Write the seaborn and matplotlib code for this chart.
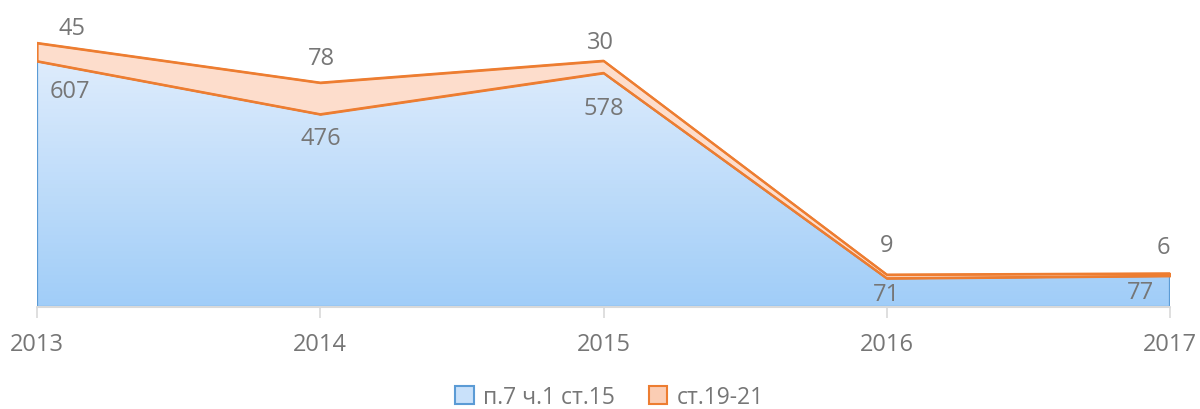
import numpy as np
import pandas as pd
import seaborn as sns
import matplotlib
matplotlib.use("Agg")
import matplotlib.pyplot as plt
from matplotlib.patches import Patch
from matplotlib.colors import LinearSegmentedColormap

# ---- data ----
years = ["2013", "2014", "2015", "2016", "2017"]
p7_st15 = [607, 476, 578, 71, 77]      # п.7 ч.1 ст.15
st19_21 = [45, 78, 30, 9, 6]           # ст.19-21
series_names = ["п.7 ч.1 ст.15", "ст.19-21"]

# label offsets in pixels (styling)
top_offsets = [(35, 15), (1, 25), (-3, 19), (0, 30), (-7, 26)]
bot_offsets = [(33, -30), (1, -24), (0, -35), (0, -16), (-30, -16)]

sns.set_theme(style="white")
plt.rcParams["font.family"] = ["Open Sans", "DejaVu Sans"]

BLUE_EDGE = "#5B9BD5"
ORANGE_EDGE = "#ED7D31"
ORANGE_FILL = "#FDDDCC"
TXT = "#767676"

df = pd.DataFrame({"year": years, "base": p7_st15, "top": st19_21})
df["idx"] = np.arange(len(df))
df["total"] = df["base"] + df["top"]

fig = plt.figure(figsize=(12, 4.1), dpi=100)
ax = fig.add_axes([37 / 1200, 1 - 308 / 410, (1170 - 37) / 1200, 0.6915])
ymax = 700
ax.set_xlim(0, len(df) - 1)
ax.set_ylim(0, ymax)

# blue area with vertical gradient
poly = ax.fill_between(df["idx"], 0, df["base"], facecolor="none",
                       edgecolor=BLUE_EDGE, linewidth=1.6, zorder=2)
cmap = LinearSegmentedColormap.from_list("b", ["#A0CDF8", "#DEECFC"])
grad = np.linspace(0, 1, 256).reshape(-1, 1)
top_b = max(p7_st15)
im = ax.imshow(grad, cmap=cmap, origin="lower", aspect="auto",
               extent=(0, len(df) - 1, 0, top_b), zorder=1)
im.set_clip_path(poly.get_paths()[0], transform=ax.transData)

# orange band
ax.fill_between(df["idx"], df["base"], df["total"], facecolor=ORANGE_FILL,
                edgecolor=ORANGE_EDGE, linewidth=1.6, zorder=3)
sns.lineplot(data=df, x="idx", y="total", color=ORANGE_EDGE, linewidth=1.6,
             ax=ax, zorder=4)
sns.lineplot(data=df, x="idx", y="base", color=ORANGE_EDGE, linewidth=1.6,
             ax=ax, zorder=4)

# axis styling
for s in ax.spines.values():
    s.set_visible(False)
ax.axhline(0, color="#D9D9D9", linewidth=1.5, zorder=5, clip_on=False)
ax.set_yticks([])
ax.set_xticks(df["idx"])
ax.set_xticklabels(years, fontsize=17, color=TXT)
ax.tick_params(axis="x", length=8, width=1.2, color="#D9D9D9", pad=10,
               bottom=True)
ax.set_xlabel("")
ax.set_ylabel("")
ax.grid(False)

# data labels
for i, r in df.iterrows():
    ax.annotate(str(r["top"]), (r["idx"], r["total"]), xytext=top_offsets[i],
                textcoords="offset pixels", ha="center", va="center",
                fontsize=17, color=TXT, zorder=6, annotation_clip=False)
    ax.annotate(str(r["base"]), (r["idx"], r["base"]), xytext=bot_offsets[i],
                textcoords="offset pixels", ha="center", va="center",
                fontsize=17, color=TXT, zorder=6, annotation_clip=False)

handles = [Patch(facecolor="#C9E1FA", edgecolor=BLUE_EDGE, linewidth=1.5),
           Patch(facecolor="#FBCDB4", edgecolor=ORANGE_EDGE, linewidth=1.5)]
fig.legend(handles, series_names, loc="center", bbox_to_anchor=(0.508, 1 - 398 / 410),
           ncol=2, frameon=False, fontsize=16.5, labelcolor=TXT,
           handlelength=0.8, handleheight=0.8, handletextpad=0.4,
           columnspacing=1.5)

fig.savefig("out.png", dpi=100)
